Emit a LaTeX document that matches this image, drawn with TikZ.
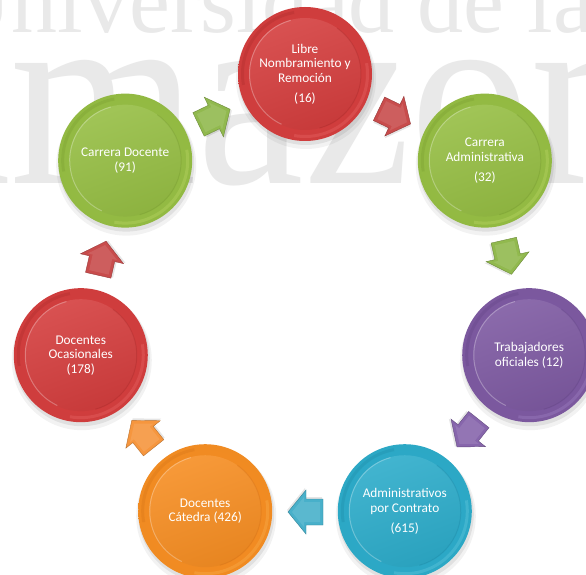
\documentclass[tikz,border=0pt]{standalone}
\usepackage{fontspec}
\setmainfont{Carlito}
\newfontfamily\wmfont{Liberation Serif}
\usetikzlibrary{calc}
\definecolor{wm}{RGB}{233,233,233}
% orb colours
\definecolor{greenbase}{RGB}{150,190,68}
\definecolor{greendark}{RGB}{100,135,35}
\definecolor{greenlight}{RGB}{195,222,110}
\definecolor{redbase}{RGB}{212,62,62}
\definecolor{reddark}{RGB}{145,30,30}
\definecolor{redlight}{RGB}{238,112,112}
\definecolor{purplebase}{RGB}{126,90,162}
\definecolor{purpledark}{RGB}{80,52,115}
\definecolor{purplelight}{RGB}{168,138,205}
\definecolor{cyanbase}{RGB}{45,172,202}
\definecolor{cyandark}{RGB}{20,115,145}
\definecolor{cyanlight}{RGB}{115,208,230}
\definecolor{orangebase}{RGB}{246,142,35}
\definecolor{orangedark}{RGB}{195,95,15}
\definecolor{orangelight}{RGB}{252,185,90}
% arrow colours
\definecolor{agreen}{RGB}{145,185,78}
\definecolor{ared}{RGB}{200,76,76}
\definecolor{apurple}{RGB}{135,102,172}
\definecolor{acyan}{RGB}{72,176,202}
\definecolor{aorange}{RGB}{246,150,62}
\colorlet{orbin}{white}\colorlet{orbmid}{white}\colorlet{orbhi}{white}\colorlet{orbout}{black}
\pgfdeclareradialshading[orbin,orbmid,orbhi,orbout]{orbshade}{\pgfpoint{0bp}{0bp}}{%
  color(0bp)=(orbin); color(41bp)=(orbmid); color(45.5bp)=(orbhi); color(48.5bp)=(orbmid); color(50bp)=(orbout)}
\tikzset{
  orbtext/.style={circle, minimum size=134pt, inner sep=0pt, align=center,
    text=white, font=\fontsize{13.3}{14.5}\selectfont},
  wmtext/.style={anchor=base west, inner sep=0pt, text=wm},
}
\newcommand\orbdeco[2]{% #1 coordinate, #2 colour prefix
  \colorlet{orbin}{#2base}\colorlet{orbmid}{#2base!96!black}%
  \colorlet{orbhi}{#2base!75!#2light}\colorlet{orbout}{#2dark}%
  \fill[black, opacity=0.05] ($(#1)+(1pt,-5pt)$) circle (70pt);
  \fill[black, opacity=0.07] ($(#1)+(1pt,-3pt)$) circle (68pt);
  \shade[shading=orbshade] (#1) circle (67pt);
  \draw[#2light, opacity=0.30, line width=3pt] ($(#1)+(-100:62.5pt)$) arc (-100:10:62.5pt);
  \draw[#2dark, opacity=0.18, line width=3pt] ($(#1)+(100:62.5pt)$) arc (100:190:62.5pt);
  \shade[top color=#2base!90!white, bottom color=#2base!94!black, shading angle=20] (#1) circle (56pt);
  \draw[white, opacity=0.28, line width=1pt] ($(#1)+(105:55.5pt)$) arc (105:245:55.5pt);
  \draw[#2dark, opacity=0.22, line width=1pt] ($(#1)+(-75:56pt)$) arc (-75:55:56pt);
}
\newcommand\blockarrow[3]{% #1 coordinate, #2 rotation, #3 colour
  \begin{scope}[shift={(#1)}, rotate=#2]
    \fill[black, opacity=0.10] (18pt,-2pt) -- (0pt,20pt) -- (0pt,11pt) -- (-17pt,11pt) -- (-17pt,-15pt) -- (0pt,-15pt) -- (0pt,-24pt) -- cycle;
    \fill[#3, draw=#3!75!black, line width=0.4pt] (17pt,0pt) -- (-1pt,22pt) -- (-1pt,13pt) -- (-18pt,13pt) -- (-18pt,-13pt) -- (-1pt,-13pt) -- (-1pt,-22pt) -- cycle;
    \fill[white, opacity=0.10] (13pt,0pt) -- (1pt,15pt) -- (1pt,10pt) -- (-15pt,10pt) -- (-15pt,-10pt) -- (1pt,-10pt) -- (1pt,-15pt) -- cycle;
  \end{scope}}
\begin{document}
\begin{tikzpicture}[x=1pt,y=1pt]
\useasboundingbox (0,0) rectangle (586,-575);
\clip (0,0) rectangle (586,-575);
\fill[white] (0,0) rectangle (586,-575);
% watermark
\node[wmtext, font=\wmfont\fontsize{92}{92}\selectfont] (wm1) at (-55,-33) {Universidad de la};
\node[wmtext, font=\wmfont\fontsize{240}{240}\selectfont] (wm2) at (-96,-183) {\scalebox{1}[1.09]{amazonia}};
% layout
\coordinate (C) at (305,-304);
\path (C) ++(90:230) coordinate (pA);
\path (C) ++(38.571:230) coordinate (pB);
\path (C) ++(-12.857:230) coordinate (pC);
\path (C) ++(-64.286:230) coordinate (pD);
\path (C) ++(-115.714:230) coordinate (pE);
\path (C) ++(-167.143:230) coordinate (pF);
\path (C) ++(141.429:230) coordinate (pG);
\path (C) ++(115.714:208) coordinate (aGA);
\path (C) ++(64.286:208) coordinate (aAB);
\path (C) ++(12.857:208) coordinate (aBC);
\path (C) ++(-38.571:208) coordinate (aCD);
\path (C) ++(-90:208) coordinate (aDE);
\path (C) ++(-141.429:208) coordinate (aEF);
\path (C) ++(167.143:208) coordinate (aFG);
% arrows
\blockarrow{aGA}{25.714}{agreen}
\blockarrow{aAB}{-25.714}{ared}
\blockarrow{aBC}{-77.143}{agreen}
\blockarrow{aCD}{-128.571}{apurple}
\blockarrow{aDE}{-180}{acyan}
\blockarrow{aEF}{-231.429}{aorange}
\blockarrow{aFG}{77.143}{ared}
% orbs
\orbdeco{pA}{red}
\orbdeco{pB}{green}
\orbdeco{pC}{purple}
\orbdeco{pD}{cyan}
\orbdeco{pE}{orange}
\orbdeco{pF}{red}
\orbdeco{pG}{green}
\node[orbtext] (libre) at (pA) {Libre\\Nombramiento y\\Remoción\\[5.5pt](16)};
\node[orbtext] (cadm) at (pB) {Carrera\\Administrativa\\[5.5pt](32)};
\node[orbtext] (trab) at (pC) {Trabajadores\\oficiales (12)};
\node[orbtext] (contr) at (pD) {Administrativos\\por Contrato\\[5.5pt](615)};
\node[orbtext] (cated) at (pE) {Docentes\\Cátedra (426)};
\node[orbtext] (ocas) at (pF) {Docentes\\Ocasionales\\(178)};
\node[orbtext] (cdoc) at (pG) {Carrera Docente\\(91)};
\end{tikzpicture}
\end{document}
